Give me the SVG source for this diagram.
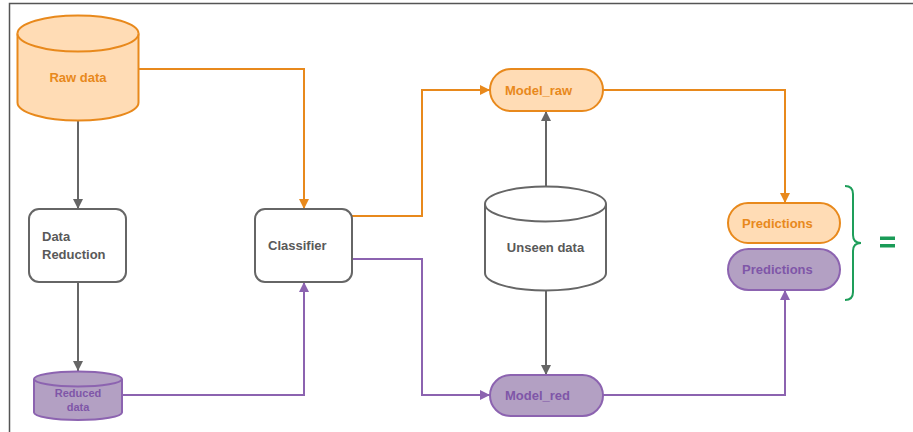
<svg xmlns="http://www.w3.org/2000/svg" width="913" height="432" viewBox="0 0 913 432">
<defs>
<style>
text{font-family:"Liberation Sans",Arial,sans-serif;font-weight:bold;font-size:13px}
.g{fill:#fff;stroke:#666;stroke-width:2}
.o{fill:#ffdcb5;stroke:#e8891c;stroke-width:2}
.p{fill:#b3a0c3;stroke:#8c63b0;stroke-width:2}
.gt{fill:#595959}
.ot{fill:#e8891c}
.pt{fill:#7f56a8}
.cg{fill:none;stroke:#666;stroke-width:2}
.co{fill:none;stroke:#e8891c;stroke-width:2}
.cp{fill:none;stroke:#8c63b0;stroke-width:2}
</style>
<marker id="ag" viewBox="0 0 10 10" refX="10" refY="5" markerWidth="10" markerHeight="10" markerUnits="userSpaceOnUse" orient="auto"><path d="M0,0L10,5L0,10z" fill="#666"/></marker>
<marker id="ao" viewBox="0 0 10 10" refX="10" refY="5" markerWidth="10" markerHeight="10" markerUnits="userSpaceOnUse" orient="auto"><path d="M0,0L10,5L0,10z" fill="#e8891c"/></marker>
<marker id="ap" viewBox="0 0 10 10" refX="10" refY="5" markerWidth="10" markerHeight="10" markerUnits="userSpaceOnUse" orient="auto"><path d="M0,0L10,5L0,10z" fill="#8c63b0"/></marker>
</defs>
<rect width="913" height="432" fill="#fff"/>
<path d="M9.5,432V3.5H913" fill="none" stroke="#555" stroke-width="1.5"/>
<g id="connectors">
<path class="cg" d="M78,121V209" marker-end="url(#ag)"/>
<path class="cg" d="M78,282V371" marker-end="url(#ag)"/>
<path class="co" d="M138.5,69H304V209" marker-end="url(#ao)"/>
<path class="cp" d="M122,395H304V282" marker-end="url(#ap)"/>
<path class="co" d="M352,216H422V90H490" marker-end="url(#ao)"/>
<path class="cp" d="M352,259H422V395H490" marker-end="url(#ap)"/>
<path class="cg" d="M546,187V111" marker-end="url(#ag)"/>
<path class="cg" d="M546,291V375" marker-end="url(#ag)"/>
<path class="co" d="M603,90H785V203" marker-end="url(#ao)"/>
<path class="cp" d="M603,395H785V290" marker-end="url(#ap)"/>
</g>
<g id="raw-data">
<path class="o" d="M17.5,33.5A60.5,18 0 0 1 138.5,33.5V102.5A60.5,18 0 0 1 17.5,102.5Z"/>
<path class="o" d="M17.5,33.5A60.5,18 0 0 0 138.5,33.5" fill="none"/>
<text class="ot" x="78" y="82" text-anchor="middle">Raw data</text>
</g>
<g id="data-reduction">
<rect class="g" x="29" y="209" width="97" height="73" rx="10"/>
<text class="gt" x="42" y="241">Data</text>
<text class="gt" x="42" y="259">Reduction</text>
</g>
<g id="reduced-data">
<path class="p" d="M34,379A44,7.5 0 0 1 122,379V412.5A44,7.5 0 0 1 34,412.5Z"/>
<path class="p" d="M34,379A44,7.5 0 0 0 122,379" fill="none"/>
<text class="pt" x="78" y="397" text-anchor="middle" style="font-size:11px">Reduced</text>
<text class="pt" x="78" y="410.5" text-anchor="middle" style="font-size:11px">data</text>
</g>
<g id="classifier">
<rect class="g" x="255" y="209" width="97" height="73" rx="10"/>
<text class="gt" x="268" y="250">Classifier</text>
</g>
<g id="model-raw">
<rect class="o" x="490" y="69" width="113" height="42" rx="21"/>
<text class="ot" x="505" y="95">Model_raw</text>
</g>
<g id="unseen-data">
<path class="g" d="M485,204A60.5,17.5 0 0 1 606,204V273A60.5,17.5 0 0 1 485,273Z"/>
<path class="g" d="M485,204A60.5,17.5 0 0 0 606,204" fill="none"/>
<text class="gt" x="545.5" y="252" text-anchor="middle">Unseen data</text>
</g>
<g id="model-red">
<rect class="p" x="490" y="375" width="113" height="41" rx="20.5"/>
<text class="pt" x="505" y="400">Model_red</text>
</g>
<g id="predictions-raw">
<rect class="o" x="728" y="203" width="112" height="40" rx="20"/>
<text class="ot" x="742" y="228">Predictions</text>
</g>
<g id="predictions-red">
<rect class="p" x="728" y="249" width="112" height="41" rx="20.5"/>
<text class="pt" x="742" y="274">Predictions</text>
</g>
<g id="brace">
<path d="M845,186Q853,186 853,194V235Q853,243 861,243Q853,243 853,251V292Q853,300 845,300" fill="none" stroke="#1e9e5a" stroke-width="2"/>
<rect x="880" y="236.5" width="15" height="3.5" fill="#1a9b57"/>
<rect x="880" y="244" width="15" height="3.5" fill="#1a9b57"/>
</g>
</svg>
